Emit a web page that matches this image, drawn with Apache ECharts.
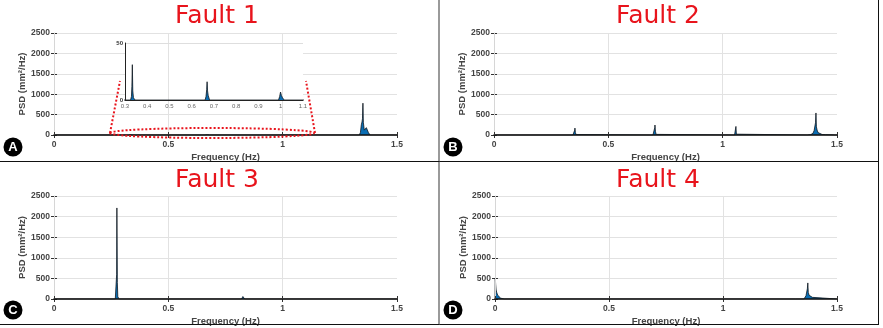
<!DOCTYPE html>
<html>
<head>
<meta charset="utf-8">
<script src="https://cdn.jsdelivr.net/npm/echarts@6/dist/echarts.min.js"></script>
<style>
  html, body { margin: 0; padding: 0; background: #fff; }
  #chart { width: 883px; height: 328px; }
</style>
</head>
<body>
<div id="chart"></div>
<script>
const faultNames = ['Fault 1', 'Fault 2', 'Fault 3', 'Fault 4'];
const panelLetters = ['A', 'B', 'C', 'D'];
const freqTicks = [0, 0.5, 1, 1.5];
const psdTicks = [0, 500, 1000, 1500, 2000, 2500];
const insetFreqTicks = [0.3, 0.4, 0.5, 0.6, 0.7, 0.8, 0.9, 1, 1.1];
const insetPsdTicks = [0, 50];

const fault1Freq = [0, 0.325, 0.329, 0.331, 0.333, 0.335, 0.338, 0.345, 0.660, 0.664, 0.667, 0.669, 0.671, 0.674, 0.680, 0.990, 0.995, 0.999, 1.003, 1.008, 1.015, 1.335, 1.340, 1.344, 1.347, 1.349, 1.351, 1.353, 1.357, 1.362, 1.366, 1.370, 1.375, 1.382, 1.5];
const fault1Psd = [0, 0, 3, 12, 31, 8, 2, 0, 0, 3, 9, 16, 8, 4, 0, 0, 3, 7, 4, 2, 0, 0, 60, 250, 320, 400, 780, 300, 120, 160, 180, 150, 60, 0, 0];

const fault2Freq = [0, 0.345, 0.350, 0.353, 0.354, 0.356, 0.359, 0.365, 0.695, 0.700, 0.703, 0.704, 0.706, 0.709, 0.715, 1.052, 1.056, 1.058, 1.060, 1.064, 1.370, 1.385, 1.395, 1.400, 1.404, 1.406, 1.408, 1.410, 1.413, 1.417, 1.422, 1.435, 1.450, 1.470, 1.490, 1.5];
const fault2Psd = [0, 0, 5, 120, 170, 60, 10, 0, 0, 8, 180, 245, 90, 15, 0, 0, 30, 210, 20, 0, 0, 10, 40, 110, 150, 300, 540, 200, 120, 60, 20, 12, 8, 5, 0, 0];

const fault3Freq = [0, 0.268, 0.272, 0.274, 0.275, 0.277, 0.279, 0.284, 0.547, 0.550, 0.553, 0.820, 0.824, 0.826, 0.829, 0.834, 1.5];
const fault3Psd = [0, 0, 30, 600, 2210, 400, 60, 0, 0, 20, 0, 0, 30, 60, 15, 0, 0];

const fault4Freq = [0, 0.001, 0.003, 0.005, 0.008, 0.012, 0.018, 0.025, 0.032, 0.040, 1.318, 1.320, 1.322, 1.355, 1.360, 1.364, 1.368, 1.370, 1.372, 1.374, 1.378, 1.384, 1.392, 1.400, 1.5];
const fault4Psd = [0, 510, 350, 220, 150, 90, 50, 20, 8, 0, 0, 15, 0, 0, 20, 80, 120, 250, 390, 160, 90, 60, 40, 0, 0];

const freqs = [fault1Freq, fault2Freq, fault3Freq, fault4Freq];
const psds = [fault1Psd, fault2Psd, fault3Psd, fault4Psd];

const red = '#e8141c';
const font = '"Liberation Sans", Arial, sans-serif';

// panel boxes (plot areas) and where title / badge sit
const panels = [
  { left: 54, top: 33, width: 343, height: 102, tx: 217, ty: 16, bx: 13, by: 147 },
  { left: 494, top: 33, width: 343, height: 102, tx: 658, ty: 16, bx: 453, by: 147 },
  { left: 54, top: 196, width: 343, height: 103, tx: 217, ty: 180, bx: 13, by: 310 },
  { left: 495, top: 196, width: 342, height: 103, tx: 658, ty: 180, bx: 453, by: 310 }
];
const inset = { left: 125, top: 43, width: 178, height: 57 };

const zip = (xs, ys) => xs.map((x, i) => [x, ys[i]]);

const grid = [], xAxis = [], yAxis = [], series = [], graphic = [];

const tickStyle = { show: true, inside: true, length: 3, lineStyle: { color: '#333', width: 1 } };
const labelStyle = { color: '#444', fontSize: 8.5, fontWeight: 'bold', fontFamily: font };

panels.forEach((p, i) => {
  grid.push({ left: p.left, top: p.top, width: p.width, height: p.height, containLabel: false });
  xAxis.push({
    type: 'value', gridIndex: i, position: 'bottom', z: 5,
    min: freqTicks[0], max: freqTicks[freqTicks.length - 1], interval: freqTicks[1] - freqTicks[0],
    name: 'Frequency (Hz)', nameLocation: 'middle', nameGap: 17,
    nameTextStyle: { color: '#444', fontSize: 9.5, fontWeight: 'bold', fontFamily: font },
    axisLine: { show: true, onZero: false, lineStyle: { color: '#111', width: 1.5 } },
    axisTick: tickStyle,
    axisLabel: Object.assign({ margin: 5, formatter: v => String(v) }, labelStyle),
    splitLine: { show: true, lineStyle: { color: ['#d6d6d6', '#e2e2e2', '#e2e2e2', 'rgba(0,0,0,0)'], width: 1 } }
  });
  xAxis.push({
    type: 'value', gridIndex: i, position: 'top',
    min: freqTicks[0], max: freqTicks[freqTicks.length - 1], interval: freqTicks[1] - freqTicks[0],
    axisLine: { show: false }, axisTick: tickStyle, axisLabel: { show: false }, splitLine: { show: false }
  });
  yAxis.push({
    type: 'value', gridIndex: i, position: 'left',
    min: psdTicks[0], max: psdTicks[psdTicks.length - 1], interval: psdTicks[1] - psdTicks[0],
    name: '{b|PSD} (mm²/Hz)', nameLocation: 'middle', nameGap: 17,
    nameTextStyle: {
      color: '#444', fontSize: 9.5, fontWeight: 'bold', fontFamily: font,
      rich: { b: { color: '#444', fontSize: 9.5, fontWeight: 'bold', fontFamily: font } }
    },
    axisLine: { show: true, lineStyle: { color: '#d6d6d6', width: 1 } },
    axisTick: tickStyle,
    axisLabel: Object.assign({ margin: 4, formatter: v => String(v) }, labelStyle),
    splitLine: { show: true, lineStyle: { color: '#e2e2e2', width: 1 } }
  });
  yAxis.push({
    type: 'value', gridIndex: i, position: 'right',
    min: psdTicks[0], max: psdTicks[psdTicks.length - 1], interval: psdTicks[1] - psdTicks[0],
    axisLine: { show: false }, axisTick: tickStyle, axisLabel: { show: false }, splitLine: { show: false }
  });
  series.push({
    type: 'line', xAxisIndex: 2 * i, yAxisIndex: 2 * i,
    data: zip(freqs[i], psds[i]), symbol: 'none', silent: true,
    lineStyle: { color: '#101820', width: 0.8 },
    areaStyle: { color: '#0a6db3', opacity: 1 },
    z: 3
  });

  // title, badge
  graphic.push({
    type: 'text', x: p.tx, y: p.ty, z: 10,
    style: { text: faultNames[i], fill: red, font: '25px "DejaVu Sans", sans-serif', align: 'center', verticalAlign: 'middle' }
  });
  graphic.push({ type: 'circle', shape: { cx: p.bx, cy: p.by, r: 9.5 }, style: { fill: '#000' }, z: 10 });
  graphic.push({
    type: 'text', x: p.bx, y: p.by + 0.5, z: 11,
    style: { text: panelLetters[i], fill: '#fff', font: 'bold 13px "Liberation Sans", Arial, sans-serif', align: 'center', verticalAlign: 'middle' }
  });
});

// zoomed inset inside Fault 1 panel
grid.push({ left: inset.left, top: inset.top, width: inset.width, height: inset.height, show: true, backgroundColor: '#fff', borderWidth: 0, z: 4 });
xAxis.push({
  type: 'value', gridIndex: 4, min: insetFreqTicks[0], max: insetFreqTicks[insetFreqTicks.length - 1], interval: 0.1, z: 7,
  axisLine: { show: true, onZero: false, lineStyle: { color: '#222', width: 1 } },
  axisTick: { show: false },
  axisLabel: { color: '#666', fontSize: 6, fontFamily: font, margin: 3, formatter: v => String(+v.toFixed(1)) },
  splitLine: { show: false }
});
yAxis.push({
  type: 'value', gridIndex: 4, min: insetPsdTicks[0], max: insetPsdTicks[1], interval: insetPsdTicks[1], z: 7,
  axisLine: { show: true, lineStyle: { color: '#222', width: 1 } },
  axisTick: { show: false },
  axisLabel: { color: '#333', fontSize: 6, fontWeight: 'bold', fontFamily: font, margin: 2 },
  splitLine: { show: true, lineStyle: { color: '#dedede', width: 1 } }
});
series.push({
  type: 'line', xAxisIndex: 8, yAxisIndex: 8, clip: true,
  data: zip(fault1Freq, fault1Psd), symbol: 'none', silent: true,
  lineStyle: { color: '#101820', width: 0.8 },
  areaStyle: { color: '#0a6db3', opacity: 1 },
  z: 6
});

// red dotted zoom marker
const dotted = { stroke: red, lineWidth: 2, lineDash: [2, 2], fill: null };
graphic.push({ type: 'ellipse', shape: { cx: 212, cy: 133, rx: 102, ry: 5 }, style: dotted, z: 9 });
graphic.push({ type: 'line', shape: { x1: 110, y1: 133, x2: 120, y2: 81 }, style: dotted, z: 9 });
graphic.push({ type: 'line', shape: { x1: 315, y1: 133, x2: 306, y2: 81 }, style: dotted, z: 9 });

// panel frame lines
graphic.push({ type: 'line', shape: { x1: 439, y1: 0, x2: 439, y2: 325 }, style: { stroke: '#9a9a9a', lineWidth: 2 }, z: 8 });
graphic.push({ type: 'line', shape: { x1: 0, y1: 161.5, x2: 879, y2: 161.5 }, style: { stroke: '#111', lineWidth: 1 }, z: 8 });
graphic.push({ type: 'line', shape: { x1: 878.5, y1: 0, x2: 878.5, y2: 325 }, style: { stroke: '#111', lineWidth: 1 }, z: 8 });
graphic.push({ type: 'line', shape: { x1: 0, y1: 324.5, x2: 879, y2: 324.5 }, style: { stroke: '#111', lineWidth: 1 }, z: 8 });

const chart = echarts.init(document.getElementById('chart'), null, { renderer: 'canvas' });
chart.setOption({
  animation: false,
  backgroundColor: '#fff',
  grid, xAxis, yAxis, series, graphic
});
</script>
</body>
</html>
